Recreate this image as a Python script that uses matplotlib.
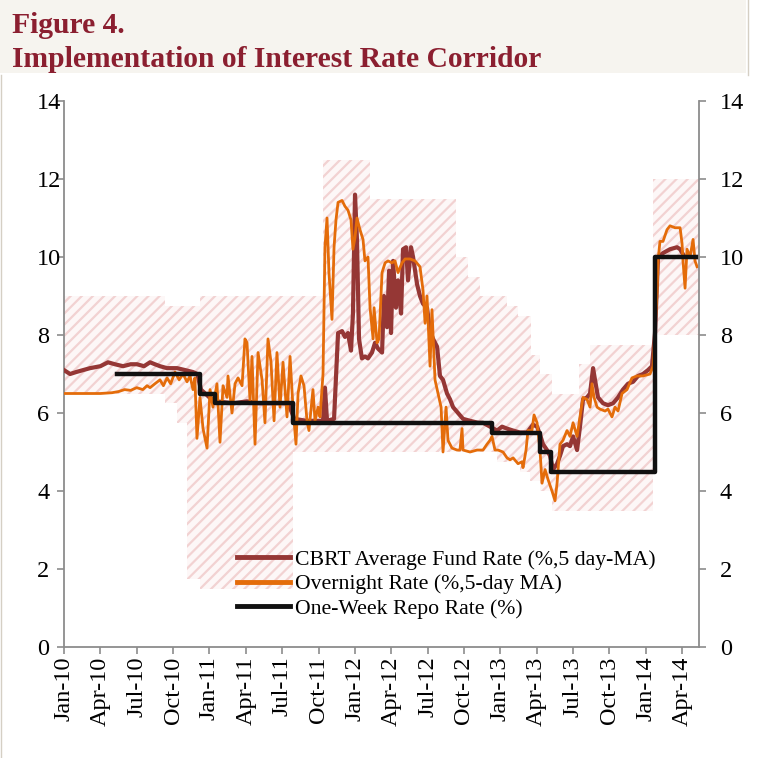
import numpy as np
import matplotlib
matplotlib.use("Agg")
import matplotlib.pyplot as plt
from matplotlib.patches import Rectangle
from matplotlib.lines import Line2D

# ---------------- data (time in months since Jan 2010) ----------------
tick_labels = ["Jan-10", "Apr-10", "Jul-10", "Oct-10", "Jan-11", "Apr-11", "Jul-11",
               "Oct-11", "Jan-12", "Apr-12", "Jul-12", "Oct-12", "Jan-13", "Apr-13",
               "Jul-13", "Oct-13", "Jan-14", "Apr-14"]
t_end = 52.39

# interest rate corridor (step values, start month of each step)
lo_t = [0, 8.33, 9.32, 10.15, 11.22, 18.89, 35.7, 37.6, 38.45, 39.27, 40.26, 48.6]
lo_v = [6.5, 6.25, 5.75, 1.75, 1.5, 5.0, 4.75, 4.5, 4.25, 4.0, 3.5, 8.0]
up_t = [0, 8.33, 11.22, 21.37, 25.25, 32.34, 33.33, 34.32, 36.55, 37.46, 38.53,
        39.27, 40.26, 42.49, 43.4, 48.6]
up_v = [9.0, 8.75, 9.0, 12.5, 11.5, 10.0, 9.5, 9.0, 8.75, 8.5, 7.5, 7.0, 6.5,
        7.25, 7.75, 12.0]

# one-week repo rate
repo_t = [4.37, 11.22, 12.46, 18.89, 35.31, 39.27, 40.18, 48.76, 52.39]
repo_v = [7.0, 6.5, 6.25, 5.75, 5.5, 5.0, 4.5, 10.0, 10.0]

# CBRT average funding rate (5-day MA)
cb_t = [0, 0.5, 1.0, 2.15, 3.0, 3.63, 4.2, 4.87, 5.5, 6.02, 6.6, 7.1, 7.5, 7.92,
        8.5, 9.32, 10.0, 10.64, 11.0, 11.3, 12.0, 12.5, 14.0, 15.1, 16.0, 18.5,
        19.0, 20.0, 21.37, 21.53, 21.70, 22.28, 22.61, 22.94, 23.18, 23.43, 23.68,
        23.84, 24.01, 24.17, 24.34, 24.58, 24.83, 25.08, 25.41, 25.66, 25.91, 26.24,
        26.40, 26.65, 26.82, 26.98, 27.15, 27.39, 27.56, 27.81, 27.97, 28.22, 28.38,
        28.63, 28.80, 29.13, 29.37, 29.62, 29.95, 30.20, 30.45, 30.78, 31.02, 31.27,
        31.60, 31.85, 32.10, 32.51, 32.92, 33.50, 34.16, 34.57, 35.15, 35.73, 36.14,
        36.55, 37.05, 37.62, 38.20, 38.69, 39.03, 39.27, 39.52, 39.85, 40.10, 40.35,
        40.68, 40.92, 41.17, 41.50, 41.75, 42.00, 42.33, 42.57, 42.82, 43.15, 43.40,
        43.65, 43.81, 44.06, 44.47, 44.88, 45.30, 45.71, 46.12, 46.53, 46.95, 47.36,
        47.77, 48.18, 48.51, 48.76, 49.01, 49.42, 50.0, 50.58, 50.83, 51.2, 52.23]
cb_v = [7.1, 7.0, 7.05, 7.15, 7.2, 7.3, 7.25, 7.2, 7.25, 7.25, 7.2, 7.3, 7.25, 7.2,
        7.15, 7.15, 7.1, 7.05, 7.0, 6.6, 6.4, 6.3, 6.25, 6.3, 6.25, 6.25,
        5.85, 5.8, 5.8, 6.65, 5.8, 5.85, 8.05, 8.1, 7.95, 8.05, 7.6,
        8.55, 11.6, 10.45, 7.9, 7.4, 7.45, 7.4, 7.55, 7.8, 7.65, 7.55,
        9.0, 8.2, 9.65, 8.05, 9.9, 8.7, 9.4, 8.55, 10.2, 10.25, 9.4,
        10.25, 10.0, 9.3, 9.0, 8.8, 8.7, 8.1, 7.9, 7.7, 6.95, 6.85,
        6.5, 6.35, 6.15, 6.0, 5.85, 5.8, 5.75, 5.75, 5.65, 5.55, 5.65,
        5.6, 5.55, 5.5, 5.5, 5.7, 5.65, 5.45, 5.2, 5.05, 4.9, 4.55,
        4.7, 4.9, 5.15, 5.2, 5.15, 5.4, 5.05, 5.65, 6.35, 6.4, 6.5,
        7.15, 6.85, 6.4, 6.25, 6.2, 6.25, 6.4, 6.6, 6.75, 6.8, 6.95,
        7.0, 7.1, 7.2, 8.05, 10.0, 10.1, 10.2, 10.25, 10.2, 10.0, 10.0]

# overnight rate (5-day MA)
ov_t = [0, 1.0, 2.0, 3.0, 3.96, 4.5, 5.0, 5.5, 6.0, 6.5, 6.85, 7.1, 7.5, 7.92, 8.2,
        8.5, 8.8, 9.16, 9.5, 9.82, 10.15, 10.4, 10.64, 10.8, 10.97, 11.22, 11.47,
        11.8, 12.05, 12.29, 12.62, 12.87, 13.12, 13.45, 13.53, 13.86, 14.11, 14.36,
        14.69, 14.93, 15.10, 15.35, 15.51, 15.76, 16.01, 16.34, 16.58, 16.83, 17.08,
        17.33, 17.57, 17.82, 18.07, 18.40, 18.65, 18.89, 19.14, 19.31, 19.55, 19.80,
        20.05, 20.21, 20.54, 20.71, 20.96, 21.12, 21.37, 21.53, 21.70, 21.86, 22.11,
        22.28, 22.44, 22.61, 22.94, 23.18, 23.43, 23.68, 23.84, 24.01, 24.17, 24.42,
        24.67, 24.83, 25.08, 25.25, 25.50, 25.58, 25.83, 25.99, 26.24, 26.49, 26.73,
        27.06, 27.31, 27.56, 27.89, 28.14, 28.55, 28.96, 29.37, 29.62, 29.79, 29.95,
        30.20, 30.36, 30.61, 30.86, 31.11, 31.27, 31.52, 31.68, 32.01, 32.43, 32.67,
        32.84, 32.92, 33.50, 34.08, 34.57, 34.90, 35.15, 35.31, 35.56, 35.81, 36.22,
        36.55, 36.80, 37.05, 37.46, 37.79, 37.87, 38.12, 38.28, 38.61, 38.78, 39.03,
        39.27, 39.44, 39.69, 39.93, 40.26, 40.51, 40.68, 40.92, 41.17, 41.50, 41.75,
        42.00, 42.33, 42.57, 42.82, 43.15, 43.40, 43.56, 43.73, 43.98, 44.22, 44.64,
        44.88, 45.21, 45.46, 45.71, 46.04, 46.45, 46.86, 47.28, 47.77, 48.35, 48.60,
        48.93, 49.01, 49.17, 49.42, 49.75, 50.00, 50.41, 50.83, 50.99, 51.07, 51.24,
        51.40, 51.65, 51.90, 52.06, 52.23]
ov_v = [6.5, 6.5, 6.5, 6.5, 6.52, 6.55, 6.6, 6.58, 6.65, 6.6, 6.7, 6.65, 6.75, 6.85, 6.7,
        6.9, 6.75, 7.05, 6.85, 7.0, 6.8, 6.95, 6.6, 6.9, 5.35, 6.4, 5.6,
        5.1, 6.6, 6.15, 6.75, 5.25, 6.7, 6.4, 6.95, 6.0, 6.75, 6.9,
        6.7, 7.9, 7.8, 6.3, 7.45, 5.2, 7.55, 6.85, 5.75, 7.9, 7.3,
        5.8, 7.55, 6.15, 7.3, 5.9, 7.45, 6.15, 5.2, 6.5, 6.95, 6.7,
        5.8, 5.55, 6.6, 5.8, 6.15, 5.9, 7.0, 10.25, 11.0, 9.6, 8.4,
        10.25, 10.95, 11.4, 11.45, 11.3, 11.2, 10.95, 10.2, 10.5, 11.0, 10.7,
        10.45, 9.9, 10.0, 8.7, 7.9, 8.7, 7.8, 7.9, 9.6, 9.85, 9.9,
        9.85, 9.9, 9.6, 9.85, 9.95, 9.95, 9.9, 9.75, 9.15, 8.3, 9.0,
        7.2, 8.65, 6.85, 6.5, 6.15, 5.0, 6.15, 5.3, 5.1, 5.05, 5.05,
        5.6, 5.05, 5.0, 5.05, 5.05, 5.2, 5.3, 5.4, 5.05, 5.05, 5.0,
        4.85, 4.8, 4.85, 4.7, 4.75, 4.6, 5.05, 5.55, 5.55, 5.95, 5.75,
        5.05, 4.2, 4.55, 4.3, 4.0, 3.75, 4.2, 5.2, 5.3, 5.55, 5.4,
        5.75, 5.4, 5.9, 6.4, 6.35, 6.15, 6.75, 6.4, 6.15, 6.1, 6.05,
        6.1, 5.9, 6.15, 6.05, 6.5, 6.6, 6.9, 6.95, 6.95, 7.0, 7.2,
        9.1, 9.9, 10.4, 10.4, 10.7, 10.8, 10.75, 10.75, 10.35, 9.9, 9.2,
        10.2, 10.0, 10.45, 9.9, 9.75]

labels = ["CBRT Average Fund Rate (%,5 day-MA)", "Overnight Rate (%,5-day MA)",
          "One-Week Repo Rate (%)"]

# ---------------- figure ----------------
plt.rcParams['font.family'] = ['Liberation Serif', 'DejaVu Serif']
plt.rcParams['hatch.linewidth'] = 1.6

W, H = 757, 758
fig = plt.figure(figsize=(W / 100, H / 100), dpi=100)
fig.patches.append(Rectangle((0, 1 - 73 / H), 746 / W, 73 / H, transform=fig.transFigure,
                             facecolor='#F6F4EF', edgecolor='none', zorder=0))
fig.lines.append(Line2D([748 / W, 748 / W], [1, 1 - 75 / H], transform=fig.transFigure,
                        color='#D5CFC4', lw=1))
fig.lines.append(Line2D([1 / W, 1 / W], [1 - 75 / H, 0], transform=fig.transFigure,
                        color='#D5CFC4', lw=1))

title_col = '#8B1F30'
fig.text(12 / W, 1 - 33 / H, "Figure 4.", fontsize=21.3, fontweight='bold',
         color=title_col, va='baseline', ha='left')
fig.text(12 / W, 1 - 67 / H, "Implementation of Interest Rate Corridor", fontsize=21.3,
         fontweight='bold', color=title_col, va='baseline', ha='left')

ax = fig.add_axes([64 / W, 1 - 647 / H, 635 / W, 546 / H])
ax.set_facecolor('white')

grid = np.append(np.union1d(lo_t, up_t), t_end)
lo = np.array(lo_v)[np.searchsorted(lo_t, grid, side='right') - 1]
up = np.array(up_v)[np.searchsorted(up_t, grid, side='right') - 1]
ax.fill_between(grid, lo, up, step='post', facecolor='#FDF7F7', edgecolor='#F2D2D2',
                hatch='///', linewidth=0, zorder=1)

ax.plot(cb_t, cb_v, color='#953735', lw=3.0, zorder=3, label=labels[0])
ax.plot(ov_t, ov_v, color='#E46C0A', lw=2.0, zorder=4, label=labels[1])
ax.plot(repo_t, repo_v, color='#111111', lw=3.2, drawstyle='steps-post', zorder=5,
        label=labels[2])

ax.set_xlim(0, t_end)
ax.set_ylim(0, 14)
gray = '#8C8C8C'
for s in ['top', 'right']:
    ax.spines[s].set_visible(False)
for s in ['left', 'bottom']:
    ax.spines[s].set_color(gray)
    ax.spines[s].set_linewidth(1.3)

tick_fs = 17.5
ax.set_xticks(np.arange(len(tick_labels)) * 3)
ax.set_xticklabels(tick_labels, rotation=90, va='top', ha='center')
ax.tick_params(axis='x', direction='out', length=5, width=1.2, color=gray,
               labelsize=tick_fs, pad=2)
ax.set_yticks(range(0, 15, 2))
ax.tick_params(axis='y', direction='out', length=5, width=1.2, color=gray,
               labelsize=tick_fs, pad=14.4)
for lbl in ax.get_yticklabels():
    lbl.set_ha('left')

ax2 = ax.twinx()
ax2.set_ylim(0, 14)
ax2.set_yticks(range(0, 15, 2))
for s in ['top', 'left', 'bottom']:
    ax2.spines[s].set_visible(False)
ax2.spines['right'].set_color(gray)
ax2.spines['right'].set_linewidth(1.3)
ax2.tick_params(axis='y', direction='out', length=5, width=1.2, color=gray,
                labelsize=tick_fs, pad=10.0)

leg = ax.legend(loc='upper left', bbox_to_anchor=(0.2724, 0.178), frameon=False,
                fontsize=15.7, borderpad=0, borderaxespad=0, handlelength=2.42,
                handletextpad=0.25, labelspacing=0.19)
for h in leg.get_lines():
    h.set_linewidth(3.5)

fig.savefig("out.png", dpi=100)
